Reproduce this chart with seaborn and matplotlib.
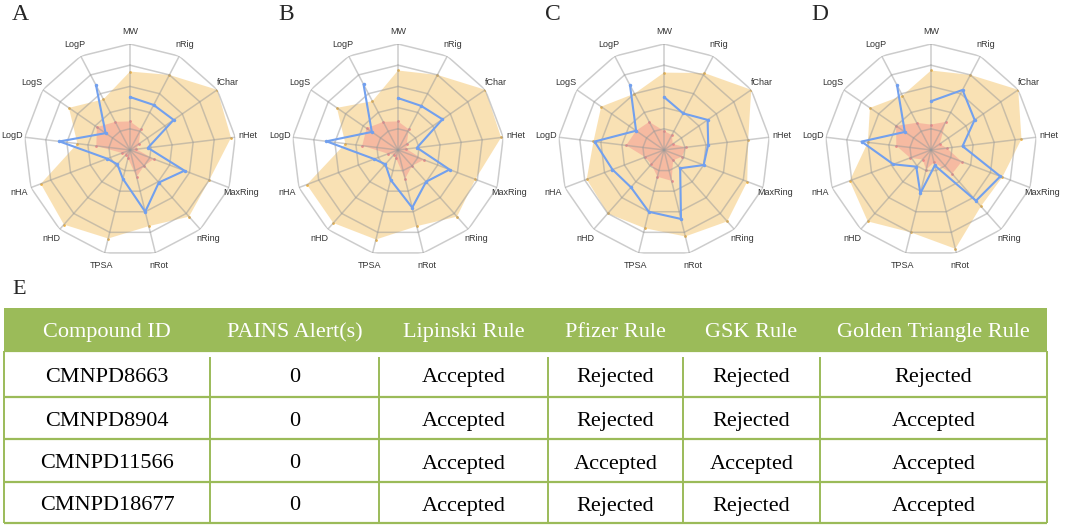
import numpy as np
import pandas as pd
import matplotlib.pyplot as plt
import seaborn as sns
from matplotlib.patches import Rectangle

sns.set_theme(style="white")
plt.rcParams["font.family"] = ["Liberation Sans", "DejaVu Sans"]

#radar axes (clockwise from top)
props = ["MW", "nRig", "fChar", "nHet", "MaxRing", "nRing", "nRot",
         "TPSA", "nHD", "nHA", "LogD", "LogS", "LogP"]

#upper limit (orange), lower limit (pink), compound (blue) for each panel
upper_a = [3.7, 4.0, 5.0, 4.8, 4.0, 4.2, 3.7, 4.3, 4.7, 4.5, 2.5, 3.5, 2.7]
lower_a = [1.35, 1.1, 0.5, 0.3, 1.2, 1.0, 1.3, 0.4, 0.3, 0.4, 1.6, 1.9, 1.5]
cmpd_a = [2.5, 2.4, 2.5, 0.85, 2.75, 2.05, 3.0, 1.4, 0.9, 1.15, 3.35, 1.4, 3.45]

upper_b = [3.75, 4.0, 5.0, 4.9, 3.9, 4.2, 3.7, 4.35, 4.6, 4.6, 2.5, 3.5, 2.6]
lower_b = [1.35, 1.1, 0.5, 0.4, 1.3, 1.0, 1.4, 0.4, 0.3, 0.5, 1.7, 1.8, 1.5]
cmpd_b = [2.45, 2.35, 2.55, 0.9, 2.6, 2.0, 2.8, 1.45, 0.9, 1.2, 3.4, 1.5, 3.5]

upper_c = [3.65, 4.1, 5.0, 4.0, 4.2, 4.5, 4.2, 3.8, 4.0, 3.9, 3.35, 3.6, 3.0]
lower_c = [0.9, 0.8, 0.5, 1.05, 0.9, 0.65, 1.5, 1.3, 0.9, 0.95, 1.8, 1.6, 1.5]
cmpd_c = [2.5, 1.95, 2.5, 2.1, 2.0, 1.15, 3.35, 3.0, 2.35, 2.6, 3.3, 1.6, 3.45]

upper_d = [3.75, 4.0, 5.0, 4.3, 3.6, 3.55, 4.8, 4.0, 4.5, 4.1, 3.0, 3.5, 2.9]
lower_d = [1.2, 1.5, 0.5, 0.75, 1.55, 1.5, 0.6, 0.95, 0.6, 1.05, 1.65, 2.0, 1.45]
cmpd_d = [2.3, 3.2, 2.5, 1.5, 3.5, 3.2, 0.75, 2.1, 1.05, 1.9, 3.3, 1.5, 3.45]

panel_labels = ["A", "B", "C", "D"]

#table data
headers = ["Compound ID", "PAINS Alert(s)", "Lipinski Rule", "Pfizer Rule",
           "GSK Rule", "Golden Triangle Rule"]
compounds = ["CMNPD8663", "CMNPD8904", "CMNPD11566", "CMNPD18677"]
pains = ["0", "0", "0", "0"]
lipinski = ["Accepted", "Accepted", "Accepted", "Accepted"]
pfizer = ["Rejected", "Rejected", "Accepted", "Rejected"]
gsk = ["Rejected", "Rejected", "Accepted", "Rejected"]
golden = ["Rejected", "Accepted", "Accepted", "Accepted"]

W, H = 1065, 527
fig = plt.figure(figsize=(W / 100, H / 100), dpi=100)

#table drawn in pixel coordinates on a full-figure axes
tab = fig.add_axes([0, 0, 1, 1])
tab.set_xlim(0, W)
tab.set_ylim(H, 0)
tab.axis("off")
tab.patch.set_alpha(0)

green = "#9BBB59"
col_edges = [4, 210, 379, 548, 683, 820, 1047]
row_edges = [308, 351, 397, 439, 482, 523]
tab.add_patch(Rectangle((col_edges[0], row_edges[0]), col_edges[-1] - col_edges[0],
                        row_edges[1] - row_edges[0], color=green, lw=0))
for y in row_edges[1:]:
    tab.plot([col_edges[0], col_edges[-1]], [y, y], color=green, lw=1.6, solid_capstyle="butt")
for i, x in enumerate(col_edges):
    #inner separators start a little below the header, like the original
    top = row_edges[1] if i in (0, len(col_edges) - 1) else row_edges[1] + 6
    tab.plot([x, x], [top, row_edges[-1]], color=green, lw=1.4, solid_capstyle="butt")

centers = [(a + b) / 2 for a, b in zip(col_edges[:-1], col_edges[1:])]
serif = ["Liberation Serif", "DejaVu Serif"]
for cx, h in zip(centers, headers):
    tab.text(cx, 337, h, ha="center", va="baseline", color="white", fontsize=16, family=serif)
rows = list(zip(compounds, pains, lipinski, pfizer, gsk, golden))
for i, row in enumerate(rows):
    base = (row_edges[i + 1] + row_edges[i + 2]) / 2 + 8
    for cx, s in zip(centers, row):
        tab.text(cx, base, s, ha="center", va="baseline", color="black", fontsize=16, family=serif)

fig.text(12 / W, 1 - 280 / H, "E", ha="left", va="top", fontsize=16, family=serif)

#radar panels
n = len(props)
angles = np.linspace(0, 2 * np.pi, n, endpoint=False)
theta = np.append(angles, angles[0])


def close(vals):
    return np.append(vals, vals[0])


def radar(ax, upper, lower, cmpd):
    ax.set_theta_zero_location("N")
    ax.set_theta_direction(-1)
    ax.set_ylim(0, 5)
    ax.set_xticks([])
    ax.set_yticks([])
    ax.grid(False)
    ax.spines["polar"].set_visible(False)
    ax.patch.set_alpha(0)

    ax.fill(theta, close(upper), color="#F3B94D", alpha=0.42, lw=0, zorder=1)
    ax.fill(theta, close(lower), color="#F48C8C", alpha=0.45, lw=0, zorder=2)
    ax.scatter(angles, upper, s=4, color="#F0B445", lw=0, zorder=2)
    ax.scatter(angles, lower, s=4, color="#EE8A8A", lw=0, zorder=2)

    #polygon grid on top of the fills
    for r in range(1, 6):
        ax.plot(theta, [r] * (n + 1), color="#9a9a9a", lw=1.1, alpha=0.5, zorder=3)
    for a in angles:
        ax.plot([a, a], [0, 5], color="#9a9a9a", lw=1.1, alpha=0.5, zorder=3)

    df = pd.DataFrame({"theta": theta, "r": close(cmpd)})
    sns.lineplot(data=df, x="theta", y="r", sort=False, color="#72A0EE", lw=1.5,
                 marker="o", markersize=2.5, markeredgewidth=0, ax=ax, zorder=4)
    ax.set_xlabel("")
    ax.set_ylabel("")

    for a, p in zip(angles, props):
        ax.text(a, 5.6, p, ha="center", va="center", fontsize=6.5, color="#333333")


cx_list = [130, 398, 664, 931]
letter_x = [12, 278, 545, 811]
R = 106
cy = 150
series = [(upper_a, lower_a, cmpd_a), (upper_b, lower_b, cmpd_b),
          (upper_c, lower_c, cmpd_c), (upper_d, lower_d, cmpd_d)]
for cx, lx, lab, (up, lo, cm) in zip(cx_list, letter_x, panel_labels, series):
    ax = fig.add_axes([(cx - R) / W, (H - cy - R) / H, 2 * R / W, 2 * R / H], projection="polar")
    radar(ax, up, lo, cm)
    fig.text(lx / W, 1 - 4 / H, lab, ha="left", va="top", fontsize=17, family=serif)

fig.savefig("out.png", dpi=100)
